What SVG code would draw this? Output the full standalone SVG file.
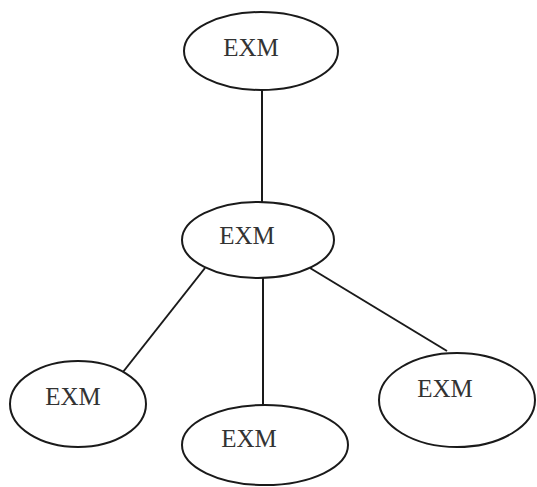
<svg xmlns="http://www.w3.org/2000/svg" width="537" height="487" viewBox="0 0 537 487">
<style>
.n{fill:#fff;stroke:#1a1a1a;stroke-width:2}
.t{font-family:"Liberation Serif","Times New Roman",serif;font-size:25px;fill:#333;text-anchor:middle}
.c{stroke:#1a1a1a;stroke-width:2;fill:none}
</style>
<rect width="537" height="487" fill="#fff"/>
<g id="connectors">
<line class="c" x1="262" y1="90" x2="262" y2="202"/>
<line class="c" x1="205" y1="268" x2="123" y2="372"/>
<line class="c" x1="263" y1="278" x2="263" y2="405"/>
<line class="c" x1="310" y1="268" x2="447" y2="351"/>
</g>
<g id="n1"><ellipse class="n" cx="261" cy="51" rx="77" ry="39"/><text class="t" x="251" y="56">EXM</text></g>
<g id="n2"><ellipse class="n" cx="258" cy="240" rx="76" ry="38"/><text class="t" x="247" y="244">EXM</text></g>
<g id="n3"><ellipse class="n" cx="78" cy="404" rx="68" ry="43"/><text class="t" x="73" y="405">EXM</text></g>
<g id="n4"><ellipse class="n" cx="265" cy="445" rx="83" ry="40"/><text class="t" x="249" y="447">EXM</text></g>
<g id="n5"><ellipse class="n" cx="457" cy="400" rx="78" ry="47"/><text class="t" x="445" y="397">EXM</text></g>
</svg>
